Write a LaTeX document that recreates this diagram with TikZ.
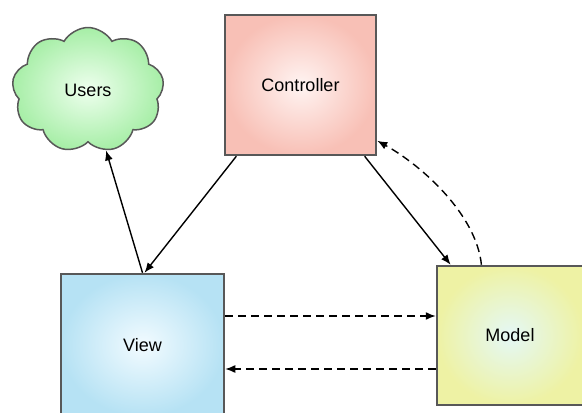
\documentclass[tikz,border=0pt]{standalone}
\usepackage{fontspec}
\setmainfont{Liberation Sans}
\usetikzlibrary{shapes.symbols,arrows.meta,calc}
\definecolor{boxline}{HTML}{585858}
\definecolor{ctrlout}{HTML}{F8C0B6}
\definecolor{ctrlin}{HTML}{FFF4F2}
\definecolor{viewout}{HTML}{B6E2F4}
\definecolor{viewin}{HTML}{F2FBFF}
\definecolor{modelout}{HTML}{EEF2A4}
\definecolor{modelin}{HTML}{E4F8F6}
\definecolor{userout}{HTML}{A6EEA6}
\definecolor{userin}{HTML}{EEFFEE}
\tikzset{
  mvcbox/.style={rectangle, draw=boxline, line width=2.5pt, font=\fontsize{18}{20}\selectfont, inner sep=0pt},
  conn/.style={line width=1.4pt, -{Latex[length=10pt,width=8pt]}},
  dconn/.style={conn, dash pattern=on 8pt off 5pt},
}
\begin{document}
\begin{tikzpicture}[x=1pt,y=-1pt]
\useasboundingbox (0,0) rectangle (582,413);
\clip (0,0) rectangle (582,413);
\node[cloud, cloud puffs=9, cloud puff arc=120, aspect=1.25, draw=boxline, line width=1.5pt,
      inner color=userin, outer color=userout, minimum width=152pt, minimum height=125pt,
      font=\fontsize{18}{20}\selectfont] (users) at (88,90) {Users};
\node[mvcbox, inner color=ctrlin, outer color=ctrlout, minimum width=151pt, minimum height=140pt] (ctrl) at (300.5,85) {Controller};
\node[mvcbox, inner color=viewin, outer color=viewout, minimum width=163pt, minimum height=142pt] (view) at (142.5,345) {View};
\node[mvcbox, inner color=modelin, outer color=modelout, minimum width=146pt, minimum height=139pt] (model) at (510,335.5) {Model};
\draw[conn] (view.north) -- (users);
\draw[conn] (ctrl.228) -- ([xshift=2pt]view.north);
\draw[conn] (ctrl.312.7) -- (model.130);
\draw[dconn] (model.112) .. controls +(-5,-50) and +(45,25) .. (ctrl.324.6);
\draw[dconn] ([yshift=29pt]view.east) -- ([yshift=29pt]view.east -| model.west);
\draw[dconn] ([yshift=-24pt]view.east -| model.west) -- ([yshift=-24pt]view.east);
\end{tikzpicture}
\end{document}
